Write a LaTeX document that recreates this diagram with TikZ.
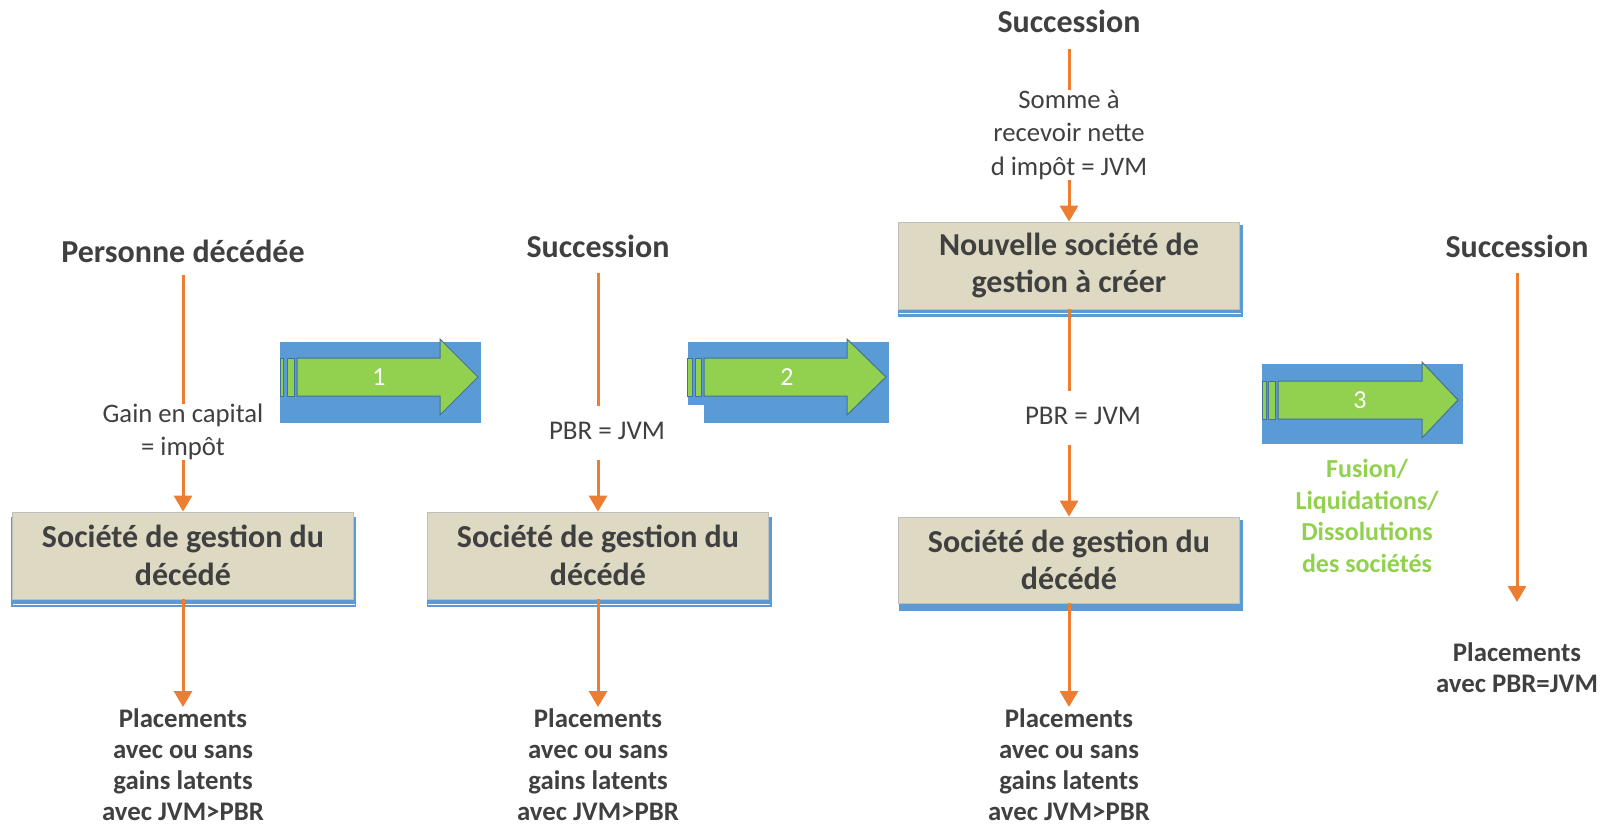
\documentclass[tikz,border=0pt]{standalone}
\usepackage{fontspec}
\setmainfont{Carlito}
\usetikzlibrary{arrows.meta}
\definecolor{txt}{HTML}{404040}
\definecolor{orng}{HTML}{ED7D31}
\definecolor{beige}{HTML}{DDD9C3}
\definecolor{boxborder}{HTML}{BFBFBF}
\definecolor{blu}{HTML}{5B9BD5}
\definecolor{grn}{HTML}{92D050}
\definecolor{arrline}{HTML}{41719C}
\begin{document}
\begin{tikzpicture}[x=1pt,y=-1pt,
  ttl/.style={font=\bfseries\fontsize{32}{38}\selectfont, text=txt, inner xsep=0pt, inner ysep=6pt, text height=22pt, text depth=7pt},
  lbl/.style={font=\fontsize{26.7}{32.5}\selectfont, text=txt, align=center, inner sep=0pt},
  lblone/.style={font=\fontsize{27}{32}\selectfont, text=txt, inner xsep=0pt, inner ysep=14pt, text height=19pt, text depth=6pt},
  gbox/.style={fill=beige, draw=boxborder, line width=0.8pt, minimum width=341pt, minimum height=87pt, inner sep=0pt, align=center, font=\bfseries\fontsize{32}{37.5}\selectfont, text=txt},
  bot/.style={font=\bfseries\fontsize{26.8}{31}\selectfont, text=txt, align=center, inner xsep=0pt, inner ysep=1pt, anchor=north},
  grntxt/.style={font=\bfseries\fontsize{26}{31.5}\selectfont, text=grn, align=center},
  num/.style={font=\fontsize{26}{30}\selectfont, text=white, inner sep=0pt},
  oline/.style={draw=orng, line width=3pt},
  oarrow/.style={oline, -{Triangle[width=18pt,length=16pt]}},
  blk/.style={fill=blu},
  garrow/.style={fill=grn, draw=arrline, line width=1pt, line join=miter},
  strip/.style={fill=grn, draw=arrline, line width=0.8pt},
  shline/.style={draw=white, line width=1.2pt}
]
\useasboundingbox (0,0) rectangle (1612,829);

% ---- box shadows ----
\fill[blu] (11,517) rectangle (356,607);
\fill[blu] (427,517) rectangle (772,607);
\fill[blu] (898,225) rectangle (1243,317);
\fill[blu] (899,520) rectangle (1243,611);

% ---- column 1 ----
\node[ttl, inner ysep=5.5pt] (t1) at (183,255) {Personne décédée};
\node[lbl] (l1) at (183,432) {Gain en capital\\= impôt};
\node[gbox] (b1) at (183,555.5) {Société de gestion du\\décédé};
\node[bot] (p1) at (183,707) {Placements\\avec ou sans\\gains latents\\avec JVM>PBR};
\draw[shline] ([xshift=1pt,yshift=-5pt]b1.south west) -- ([xshift=1pt,yshift=-5pt]b1.south east);
\draw[oline] (t1) -- (l1);
\draw[oarrow] (l1) -- (b1);
\draw[oarrow] (b1) -- (p1);

% ---- column 2 ----
\node[ttl, inner ysep=8pt] (t2) at (598,250.5) {Succession};
\node[lblone] (l2) at (598,433) {\hspace*{18pt}PBR = JVM};
\node[gbox] (b2) at (598,555.5) {Société de gestion du\\décédé};
\node[bot] (p2) at (598,707) {Placements\\avec ou sans\\gains latents\\avec JVM>PBR};
\draw[shline] ([xshift=1pt,yshift=-5pt]b2.south west) -- ([xshift=1pt,yshift=-5pt]b2.south east);
\draw[oline] (t2) -- (l2);
\draw[oarrow] (l2) -- (b2);
\draw[oarrow] (b2) -- (p2);

% ---- column 3 ----
\node[ttl, inner ysep=9pt] (t3) at (1069,25.5) {Succession};
\node[lbl, font=\fontsize{26.7}{33.5}\selectfont] (l3) at (1069,135) {Somme à\\recevoir nette\\d impôt = JVM};
\node[gbox] (b3) at (1069,265.5) {Nouvelle société de\\gestion à créer};
\node[lblone] (l4) at (1069,418) {\hspace*{28pt}PBR = JVM};
\node[gbox, minimum height=86pt] (b4) at (1069,560) {Société de gestion du\\décédé};
\node[bot] (p3) at (1069,707) {Placements\\avec ou sans\\gains latents\\avec JVM>PBR};
\draw[shline] ([xshift=1pt,yshift=-4pt]b3.south west) -- ([xshift=1pt,yshift=-4pt]b3.south east);
\draw[oline] (t3) -- (l3);
\draw[oarrow] (l3) -- (b3);
\draw[oline] (b3) -- (l4);
\draw[oarrow] (l4) -- (b4);
\draw[oarrow] (b4) -- (p3);

% ---- column 4 ----
\node[ttl, inner ysep=8pt] (t4) at (1517,250.5) {Succession};
\node[bot, inner ysep=40pt] (p4) at (1517,602) {Placements\\avec PBR=JVM};
\draw[oarrow] (t4) -- (p4);

% ---- block arrow 1 ----
\fill[blk] (280,342) rectangle (481,423);
\draw[strip] (280,358) rectangle (283.5,396);
\draw[strip] (287,358) rectangle (294,396);
\draw[garrow] (297,358) -- (440,358) -- (440,339) -- (478,377) -- (440,415) -- (440,396) -- (297,396) -- cycle;
\node[num] (n1) at (379,377) {1};

% ---- block arrow 2 ----
\fill[blk] (688,342) rectangle (889,405);
\fill[blk] (704,342) rectangle (889,423);
\draw[strip] (687,358) rectangle (692,396);
\draw[strip] (695,358) rectangle (701,396);
\draw[garrow] (704,358) -- (847,358) -- (847,339) -- (886,377) -- (847,415) -- (847,396) -- (704,396) -- cycle;
\node[num] (n2) at (787,377) {2};

% ---- block arrow 3 ----
\fill[blk] (1262,364) rectangle (1463,444);
\draw[strip] (1262,381) rectangle (1266,419);
\draw[strip] (1268,381) rectangle (1275,419);
\draw[garrow] (1278,381) -- (1422,381) -- (1422,362) -- (1458,400) -- (1422,438) -- (1422,419) -- (1278,419) -- cycle;
\node[num] (n3) at (1360,400) {3};

\node[grntxt] (g) at (1367,516) {Fusion/\\Liquidations/\\Dissolutions\\des sociétés};
\end{tikzpicture}
\end{document}
